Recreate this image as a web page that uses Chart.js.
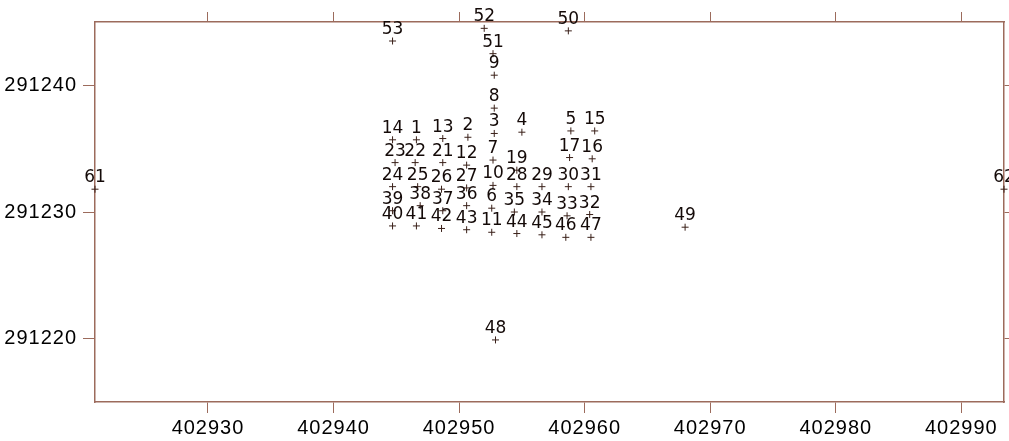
<!DOCTYPE html>
<html>
<head>
<meta charset="utf-8">
<script src="https://cdn.jsdelivr.net/npm/chart.js@4"></script>
<style>
  html, body { margin: 0; padding: 0; background: #fff; }
  canvas { display: block; }
</style>
</head>
<body>
<canvas id="chart" width="1009" height="441"></canvas>
<script>
// point names and coordinates (easting / northing)
const pointNames = ['1','2','3','4','5','6','7','8','9','10','11','12','13','14','15','16','17','19',
  '21','22','23','24','25','26','27','28','29','30','31','32','33','34','35','36','37','38','39','40',
  '41','42','43','44','45','46','47','48','49','50','51','52','53','61','62'];
const eastings = [402946.6, 402950.7, 402952.8, 402955.0, 402958.9, 402952.6, 402952.7, 402952.8, 402952.8, 402952.7,
  402952.6, 402950.6, 402948.7, 402944.7, 402960.8, 402960.6, 402958.8, 402954.6,
  402948.7, 402946.5, 402944.9, 402944.7, 402946.7, 402948.6, 402950.6, 402954.6, 402956.6, 402958.7, 402960.5,
  402960.4, 402958.6, 402956.6, 402954.4, 402950.6, 402948.7, 402946.9, 402944.7, 402944.7,
  402946.6, 402948.6, 402950.6, 402954.6, 402956.6, 402958.5, 402960.5, 402952.9, 402968.0,
  402958.7, 402952.7, 402952.0, 402944.7, 402921.0, 402993.4];
const northings = [291235.7, 291235.9, 291236.2, 291236.3, 291236.4, 291230.3, 291234.1, 291238.2, 291240.8, 291232.1,
  291228.4, 291233.7, 291235.8, 291235.7, 291236.4, 291234.2, 291234.3, 291233.3,
  291233.9, 291233.9, 291233.9, 291232.0, 291232.0, 291231.8, 291231.9, 291232.0, 291232.0, 291232.0, 291232.0,
  291229.8, 291229.7, 291230.0, 291230.0, 291230.5, 291230.1, 291230.5, 291230.1, 291228.9,
  291228.9, 291228.7, 291228.6, 291228.3, 291228.2, 291228.0, 291228.0, 291219.9, 291228.8,
  291244.3, 291242.5, 291244.5, 291243.5, 291231.8, 291231.8];

const xTicks = [402930, 402940, 402950, 402960, 402970, 402980, 402990];
const yTicks = [291220, 291230, 291240];

const axisColor = '#9c6b5c';
const tickFont = { family: '"Liberation Sans", Arial, sans-serif', size: 20 };

const points = eastings.map((x, i) => ({ x, y: northings[i] }));

// letter spacing for the axis numbers
const spacingPlugin = {
  id: 'spacing',
  beforeDraw(chart) { chart.ctx.letterSpacing = '1px'; }
};

// number above each cross
const namePlugin = {
  id: 'names',
  afterDatasetsDraw(chart) {
    const ctx = chart.ctx;
    ctx.save();
    ctx.letterSpacing = '0px';
    ctx.font = '17px "DejaVu Sans", Verdana, sans-serif';
    ctx.fillStyle = '#140a08';
    ctx.textAlign = 'center';
    ctx.textBaseline = 'alphabetic';
    chart.getDatasetMeta(0).data.forEach((pt, i) => {
      ctx.fillText(pointNames[i], pt.x, pt.y - 7);
    });
    ctx.restore();
  }
};

const fixTicks = vals => scale => { scale.ticks = vals.map(v => ({ value: v })); };

function axis(position, size, tickLength, showLabels, vals, pad) {
  return {
    type: 'linear',
    position,
    afterBuildTicks: fixTicks(vals),
    afterFit(scale) {
      if (scale.isHorizontal()) scale.height = size; else scale.width = size;
    },
    grid: { drawOnChartArea: false, drawTicks: true, tickLength, color: axisColor, tickColor: axisColor, lineWidth: 1 },
    border: { display: true, color: axisColor, width: 1.5 },
    ticks: { display: showLabels, color: '#000', font: tickFont, padding: pad, callback: v => String(v), maxRotation: 0, autoSkip: false }
  };
}

const xRange = { min: 402921, max: 402993.4 };
const yRange = { min: 291215, max: 291245 };

new Chart(document.getElementById('chart'), {
  type: 'scatter',
  data: {
    datasets: [{
      data: points,
      pointStyle: 'cross',
      pointRadius: 3.5,
      pointHoverRadius: 3.5,
      borderColor: '#3a2019',
      borderWidth: 1,
      clip: false
    }]
  },
  options: {
    responsive: false,
    animation: false,
    devicePixelRatio: 1,
    layout: { padding: 0 },
    plugins: { legend: { display: false }, tooltip: { enabled: false } },
    scales: {
      x: Object.assign(axis('bottom', 39, 11, true, xTicks, 3), xRange),
      x2: Object.assign(axis('top', 22, 10, false, xTicks, 0), xRange),
      y: Object.assign(axis('left', 95, 12, true, yTicks, 6), yRange),
      y2: Object.assign(axis('right', 5, 5, false, yTicks, 0), yRange)
    }
  },
  plugins: [spacingPlugin, namePlugin]
});
</script>
</body>
</html>
